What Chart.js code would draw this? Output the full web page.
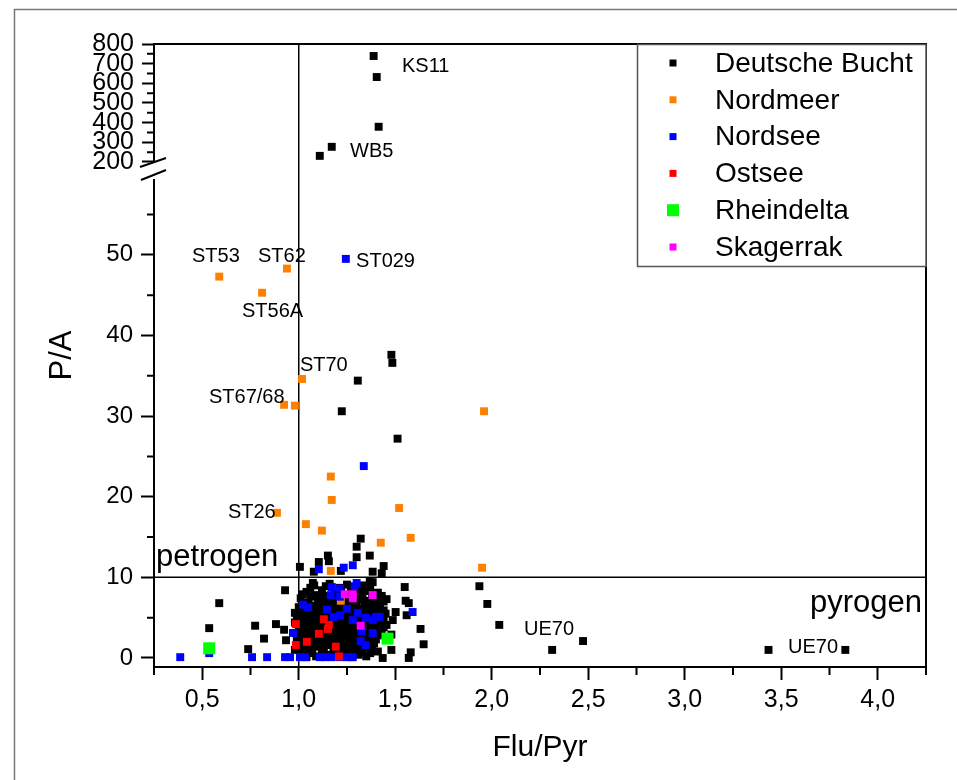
<!DOCTYPE html>
<html>
<head>
<meta charset="utf-8">
<script src="https://cdn.jsdelivr.net/npm/chart.js@4.4.1/dist/chart.umd.min.js"></script>
<style>
  html, body { margin: 0; padding: 0; background: #fff; }
  canvas { display: block; }
</style>
</head>
<body>
<canvas id="chart" width="957" height="780"></canvas>
<script>
// Region names (legend order)
const regions = ['Deutsche Bucht', 'Nordmeer', 'Nordsee', 'Ostsee', 'Rheindelta', 'Skagerrak'];

// Flu/Pyr, P/A pairs
const deutscheBucht = [
  [1.48, 37.6], [1.485, 36.6], [1.306, 34.4], [1.223, 30.6], [1.512, 27.2], [1.321, 14.8], [1.30, 13.8],
  [1.151, 12.7], [1.30, 12.5], [1.368, 12.7], [1.104, 11.9], [1.156, 12.0], [1.006, 11.3], [1.44, 11.4],
  [1.078, 10.7], [1.218, 10.8], [1.383, 10.7], [1.43, 10.5],
  [1.073, 9.3], [0.929, 8.4], [0.588, 6.8], [0.536, 3.7], [0.774, 4.0], [0.82, 2.4], [0.738, 1.1],
  [0.882, 4.2], [0.924, 3.5], [0.934, 2.2], [0.98, 5.6], [0.98, 1.0], [1.04, 0.1], [1.368, 9.5],
  [1.549, 8.8], [1.554, 7.1], [1.57, 6.8], [1.502, 5.7], [1.559, 5.3], [1.487, 4.7], [1.631, 3.6],
  [1.647, 1.7], [1.58, 0.7], [1.57, 0.0], [1.48, 1.0], [1.435, 0.0], [1.455, 7.3], [1.435, 7.2],
  [1.455, 4.1], [1.48, 2.9], [1.383, 9.4], [1.936, 8.9], [1.977, 6.7], [2.039, 4.1], [2.313, 1.0],
  [2.473, 2.1], [3.434, 1.0], [3.832, 1.0],
  [1.08, 9.0], [1.16, 9.2], [1.25, 9.1], [1.33, 9.0], [1.37, 8.6],
  [1.06, 8.7], [1.14, 8.9], [1.21, 8.7], [1.27, 8.8], [1.32, 8.5],
  [1.04, 8.2], [1.12, 8.4], [1.19, 8.0], [1.22, 8.3], [1.29, 8.1], [1.35, 8.3], [1.41, 8.1],
  [1.02, 7.9], [1.08, 7.8], [1.12, 7.9], [1.16, 7.7], [1.25, 7.8], [1.33, 7.7], [1.38, 7.6], [1.43, 7.7],
  [1.01, 7.4], [1.06, 7.6], [1.10, 7.2], [1.14, 7.5], [1.18, 7.1], [1.23, 7.4], [1.27, 7.0],
  [1.31, 7.3], [1.36, 7.1], [1.40, 7.4], [1.44, 7.0],
  [1.02, 6.8], [1.05, 6.9], [1.11, 6.8], [1.15, 6.9], [1.19, 6.8], [1.22, 6.9], [1.26, 6.7],
  [1.30, 6.8], [1.34, 6.9], [1.38, 6.7], [1.42, 6.9],
  [1.00, 6.3], [1.03, 6.0], [1.07, 6.5], [1.09, 6.1], [1.13, 6.4], [1.16, 6.0], [1.20, 6.6],
  [1.24, 6.2], [1.28, 6.5], [1.32, 6.0], [1.35, 6.4], [1.39, 6.1], [1.42, 6.3],
  [1.01, 5.8], [1.04, 5.7], [1.06, 5.9], [1.10, 5.8], [1.14, 5.9], [1.18, 5.8], [1.22, 5.9],
  [1.26, 5.7], [1.29, 5.9], [1.33, 5.8], [1.36, 5.7], [1.40, 5.8], [1.44, 5.9],
  [0.99, 5.2], [1.02, 5.5], [1.05, 5.0], [1.08, 5.4], [1.11, 5.1], [1.15, 5.6], [1.17, 5.2],
  [1.21, 5.5], [1.25, 5.0], [1.27, 5.4], [1.30, 5.2], [1.34, 5.6], [1.37, 5.0], [1.41, 5.3], [1.45, 5.5],
  [1.00, 4.8], [1.03, 4.9], [1.06, 4.7], [1.09, 4.8], [1.12, 4.9], [1.15, 4.8], [1.20, 4.9],
  [1.24, 4.7], [1.27, 4.8], [1.32, 4.9], [1.36, 4.7], [1.40, 4.8], [1.44, 4.9],
  [0.98, 4.4], [1.01, 4.0], [1.04, 4.6], [1.07, 4.1], [1.10, 4.5], [1.13, 4.2], [1.17, 4.7],
  [1.19, 4.0], [1.22, 4.4], [1.26, 4.1], [1.29, 4.6], [1.31, 4.2], [1.34, 4.5], [1.38, 4.0], [1.42, 4.4],
  [1.02, 3.7], [1.05, 3.9], [1.08, 3.8], [1.11, 3.8], [1.14, 3.9], [1.18, 3.7], [1.21, 3.8],
  [1.24, 3.9], [1.27, 3.8], [1.30, 3.7], [1.33, 3.9], [1.37, 3.8], [1.40, 3.7], [1.44, 3.8],
  [1.00, 3.3], [1.03, 3.0], [1.06, 3.5], [1.09, 3.1], [1.12, 3.6], [1.16, 3.2], [1.20, 3.4],
  [1.23, 3.0], [1.26, 3.5], [1.28, 3.1], [1.32, 3.4], [1.35, 3.0], [1.39, 3.3], [1.43, 3.1],
  [1.01, 2.8], [1.04, 2.7], [1.07, 2.8], [1.10, 2.7], [1.13, 2.9], [1.17, 2.7], [1.19, 2.9],
  [1.22, 2.8], [1.25, 2.7], [1.29, 2.8], [1.31, 2.7], [1.34, 2.8], [1.37, 2.7], [1.41, 2.8],
  [0.99, 2.2], [1.02, 2.5], [1.05, 2.0], [1.08, 2.4], [1.11, 2.1], [1.14, 2.6], [1.18, 2.2],
  [1.21, 2.5], [1.24, 2.0], [1.27, 2.4], [1.30, 2.1], [1.33, 2.5], [1.36, 2.0], [1.40, 2.3],
  [1.00, 1.8], [1.03, 1.9], [1.06, 1.7], [1.09, 1.8], [1.12, 1.8], [1.15, 1.9], [1.20, 1.8],
  [1.23, 1.7], [1.26, 1.9], [1.29, 1.7], [1.32, 1.8], [1.35, 1.7], [1.39, 1.8],
  [1.01, 1.2], [1.04, 1.5], [1.07, 1.0], [1.10, 1.4], [1.13, 1.1], [1.16, 1.6], [1.19, 1.2],
  [1.22, 1.5], [1.25, 1.0], [1.28, 1.4], [1.31, 1.1], [1.34, 1.5], [1.38, 1.2],
  [1.03, 0.8], [1.06, 0.6], [1.12, 0.7], [1.18, 0.7], [1.21, 0.8], [1.24, 0.6], [1.29, 0.8],
  [1.33, 0.7], [1.37, 0.6], [1.41, 0.8],
  [1.02, 0.3], [1.09, 0.2], [1.15, 0.4], [1.23, 0.3], [1.27, 0.1], [1.31, 0.4], [1.35, 0.2]
];
// Deutsche Bucht values above the axis break
const deutscheBuchtHigh = [[1.388, 739], [1.404, 632], [1.414, 379], [1.171, 277], [1.109, 231]];

const nordmeer = [
  [0.588, 47.3], [0.939, 48.3], [0.81, 45.3], [1.017, 34.6], [0.924, 31.4], [0.98, 31.3], [1.96, 30.6],
  [1.166, 22.5], [1.171, 19.6], [1.52, 18.6], [0.887, 18.0], [1.037, 16.6], [1.12, 15.8], [1.58, 14.9],
  [1.425, 14.3], [1.95, 11.2], [1.166, 10.8], [1.218, 7.1]
];
const nordsee = [
  [1.244, 49.5], [1.337, 23.8], [1.104, 11.0], [1.233, 11.2], [1.28, 11.5],
  [0.386, 0.1], [0.536, 0.6], [0.758, 0.1], [0.836, 0.1], [0.929, 0.1], [0.955, 0.1], [1.006, 0.1],
  [1.032, 0.1], [1.11, 0.1], [1.136, 0.1], [1.171, 0.1], [1.213, 0.1], [1.249, 0.1], [1.28, 0.1],
  [1.022, 6.6], [1.048, 6.3], [0.97, 3.1], [1.146, 6.0], [1.171, 8.8], [1.213, 8.6], [1.166, 7.8],
  [1.213, 7.6], [1.30, 9.3], [1.29, 8.9], [1.249, 6.1], [1.182, 5.1], [1.213, 5.3], [1.28, 4.7],
  [1.306, 5.6], [1.347, 5.0], [1.383, 4.7], [1.419, 5.1], [1.326, 3.3], [1.321, 2.1], [1.347, 1.6],
  [1.383, 3.1], [1.59, 5.7], [1.40, 5.1]
];
const ostsee = [
  [0.985, 4.2], [0.985, 1.6], [1.042, 2.0], [1.104, 3.0], [1.13, 4.8], [1.156, 4.1], [1.151, 3.6],
  [1.192, 1.4], [1.208, 0.2]
];
const rheindelta = [[0.536, 1.2], [1.46, 2.4]];
const skagerrak = [[1.239, 7.9], [1.28, 7.9], [1.28, 7.4], [1.383, 7.8], [1.321, 4.0]];

// tick labels
const xTicks = [0.5, 1.0, 1.5, 2.0, 2.5, 3.0, 3.5, 4.0];
const yLowTicks = [0, 10, 20, 30, 40, 50];
const yHighTicks = [200, 300, 400, 500, 600, 700, 800];

// point labels (data coordinates)
const pointLabels = [
  ['KS11', 1.535, 657, 'yHigh'], ['WB5', 1.266, 225, 'yHigh'],
  ['ST53', 0.447, 49.1, 'y'], ['ST62', 0.789, 49.1, 'y'], ['ST029', 1.297, 48.5, 'y'],
  ['ST56A', 0.706, 42.3, 'y'], ['ST70', 1.006, 35.6, 'y'], ['ST67/68', 0.535, 31.6, 'y'],
  ['ST26', 0.633, 17.4, 'y'], ['UE70', 2.167, 2.85, 'y'], ['UE70', 3.535, 0.6, 'y']
];

const FONT = "'Liberation Sans', Arial, sans-serif";
const pts = arr => arr.map(p => ({x: p[0], y: p[1]}));
const near = (v, list) => list.some(t => Math.abs(t - v) < 1e-6);
const fmt = v => v.toFixed(1).replace('.', ',');

const colors = ['#000000', '#FF8000', '#0000FF', '#FF0000', '#00FF00', '#FF00FF'];
const sets = [deutscheBucht, nordmeer, nordsee, ostsee, rheindelta, skagerrak];

const datasets = regions.map((name, i) => ({
  label: name,
  data: pts(sets[i]),
  yAxisID: 'y',
  backgroundColor: colors[i],
  borderWidth: 0,
  pointStyle: 'rect',
  pointRadius: name === 'Rheindelta' ? 8.5 : 5.6,
  order: 10 - i
}));
datasets.push({
  label: 'Deutsche Bucht (hoch)',
  data: pts(deutscheBuchtHigh),
  yAxisID: 'yHigh',
  backgroundColor: '#000000',
  borderWidth: 0,
  pointStyle: 'rect',
  pointRadius: 5.6,
  order: 11
});

// page frame, reference lines, legend, labels, axis break, minor ticks
const extras = {
  id: 'extras',
  beforeDraw(chart) {
    const ctx = chart.ctx;
    ctx.save();
    ctx.fillStyle = '#fff';
    ctx.fillRect(0, 0, chart.width, chart.height);
    ctx.strokeStyle = '#777';
    ctx.lineWidth = 1.5;
    ctx.strokeRect(14.5, 9.5, 1200, 1200);
    ctx.restore();
  },
  beforeDatasetsDraw(chart) {
    const {ctx, chartArea: a, scales} = chart;
    ctx.save();
    ctx.strokeStyle = '#000';
    ctx.lineWidth = 1.5;
    const x1 = scales.x.getPixelForValue(1.0);
    const y10 = scales.y.getPixelForValue(10);
    ctx.beginPath();
    ctx.moveTo(x1, a.top); ctx.lineTo(x1, a.bottom);
    ctx.moveTo(a.left, y10); ctx.lineTo(a.right, y10);
    ctx.stroke();
    ctx.restore();
  },
  afterDraw(chart) {
    const {ctx, chartArea: a, scales} = chart;
    ctx.save();
    // top and right frame of the plot
    ctx.strokeStyle = '#000';
    ctx.lineWidth = 2;
    ctx.beginPath();
    ctx.moveTo(a.left - 1, a.top); ctx.lineTo(a.right, a.top); ctx.lineTo(a.right, a.bottom + 6);
    ctx.stroke();

    // minor ticks
    ctx.lineWidth = 2;
    ctx.beginPath();
    scales.x.ticks.forEach(t => {
      if (near(t.value, xTicks)) return;
      const px = scales.x.getPixelForValue(t.value);
      ctx.moveTo(px, a.bottom); ctx.lineTo(px, a.bottom + 8);
    });
    scales.y.ticks.forEach(t => {
      if (near(t.value, yLowTicks) || t.value > 55) return;
      const py = scales.y.getPixelForValue(t.value);
      ctx.moveTo(a.left, py); ctx.lineTo(a.left - 7, py);
    });
    scales.yHigh.ticks.forEach(t => {
      if (near(t.value, yHighTicks)) return;
      const py = scales.yHigh.getPixelForValue(t.value);
      ctx.moveTo(a.left, py); ctx.lineTo(a.left - 7, py);
    });
    ctx.stroke();

    // axis break
    const yb = scales.y.top;
    ctx.fillStyle = '#fff';
    ctx.fillRect(a.left - 3, yb - 8, 6, 16);
    ctx.beginPath();
    ctx.moveTo(a.left - 14, yb - 4); ctx.lineTo(a.left + 12, yb - 13);
    ctx.moveTo(a.left - 13, yb + 9); ctx.lineTo(a.left + 12, yb - 1);
    ctx.stroke();

    // y axis title
    ctx.fillStyle = '#000';
    ctx.font = '31px ' + FONT;
    ctx.textAlign = 'center';
    ctx.textBaseline = 'middle';
    ctx.translate(62, (a.top + a.bottom) / 2);
    ctx.rotate(-Math.PI / 2);
    ctx.fillText('P/A', 0, 0);
    ctx.setTransform(1, 0, 0, 1, 0, 0);

    // point labels
    ctx.font = '20px ' + FONT;
    ctx.textAlign = 'left';
    ctx.textBaseline = 'alphabetic';
    pointLabels.forEach(([txt, xv, yv, ax]) => {
      ctx.fillText(txt, scales.x.getPixelForValue(xv), scales[ax].getPixelForValue(yv));
    });

    // region labels
    ctx.font = '31px ' + FONT;
    ctx.fillText('petrogen', scales.x.getPixelForValue(0.26), scales.y.getPixelForValue(11.4));
    ctx.textAlign = 'right';
    ctx.fillText('pyrogen', scales.x.getPixelForValue(4.229), scales.y.getPixelForValue(5.7));

    // legend
    const lx = 637.5, ly = 44.5, lw = a.right - lx, lh = 222;
    ctx.fillStyle = '#fff';
    ctx.fillRect(lx, ly, lw, lh);
    ctx.strokeStyle = '#555';
    ctx.lineWidth = 1.5;
    ctx.strokeRect(lx, ly, lw, lh);
    ctx.font = '28px ' + FONT;
    ctx.textAlign = 'left';
    ctx.textBaseline = 'middle';
    chart.data.datasets.slice(0, regions.length).forEach((ds, i) => {
      const cy = 63 + i * 36.8;
      const s = ds.label === 'Rheindelta' ? 12 : 7;
      ctx.fillStyle = ds.backgroundColor;
      ctx.fillRect(673 - s / 2, cy - s / 2, s, s);
      ctx.fillStyle = '#000';
      ctx.fillText(ds.label, 715, cy + 1);
    });
    ctx.restore();
  }
};

new Chart(document.getElementById('chart'), {
  type: 'scatter',
  data: { datasets },
  options: {
    responsive: false,
    animation: false,
    layout: { padding: { left: 0, top: 44, right: 31, bottom: 0 } },
    plugins: { legend: { display: false }, tooltip: { enabled: false } },
    scales: {
      y: {
        type: 'linear',
        position: 'left',
        stack: 'pa',
        stackWeight: 496,
        min: -1.12,
        max: 60.4,
        afterFit: s => { s.width = 154; },
        border: { display: true, color: '#000', width: 2 },
        grid: {
          drawOnChartArea: false,
          tickLength: 13,
          tickWidth: 2,
          tickColor: c => near(c.tick.value, yLowTicks) ? '#000' : 'rgba(0,0,0,0)'
        },
        ticks: {
          stepSize: 5,
          includeBounds: false,
          autoSkip: false,
          padding: 8,
          color: '#000',
          font: { family: FONT, size: 24 },
          callback: v => near(v, yLowTicks) ? String(v) : ''
        }
      },
      yHigh: {
        type: 'linear',
        position: 'left',
        stack: 'pa',
        stackWeight: 127,
        min: 154,
        max: 800,
        afterFit: s => { s.width = 154; },
        border: { display: true, color: '#000', width: 2 },
        grid: {
          drawOnChartArea: false,
          tickLength: 12,
          tickWidth: 2,
          tickColor: c => near(c.tick.value, yHighTicks) ? '#000' : 'rgba(0,0,0,0)'
        },
        ticks: {
          stepSize: 50,
          includeBounds: false,
          autoSkip: false,
          padding: 8,
          color: '#000',
          font: { family: FONT, size: 25 },
          callback: v => near(v, yHighTicks) ? String(v) : ''
        }
      },
      x: {
        type: 'linear',
        position: 'bottom',
        min: 0.25,
        max: 4.25,
        afterFit: s => { s.height = 113; },
        border: { display: true, color: '#000', width: 2 },
        grid: {
          drawOnChartArea: false,
          tickLength: 13,
          tickWidth: 2,
          tickColor: c => near(c.tick.value, xTicks) ? '#000' : 'rgba(0,0,0,0)'
        },
        ticks: {
          stepSize: 0.25,
          autoSkip: false,
          maxRotation: 0,
          padding: 5,
          color: '#000',
          font: { family: FONT, size: 25 },
          callback: v => near(v, xTicks) ? fmt(v) : ''
        },
        title: {
          display: true,
          text: 'Flu/Pyr',
          color: '#000',
          font: { family: FONT, size: 30 },
          padding: { top: 0, bottom: 14 }
        }
      }
    }
  },
  plugins: [extras]
});
</script>
</body>
</html>
